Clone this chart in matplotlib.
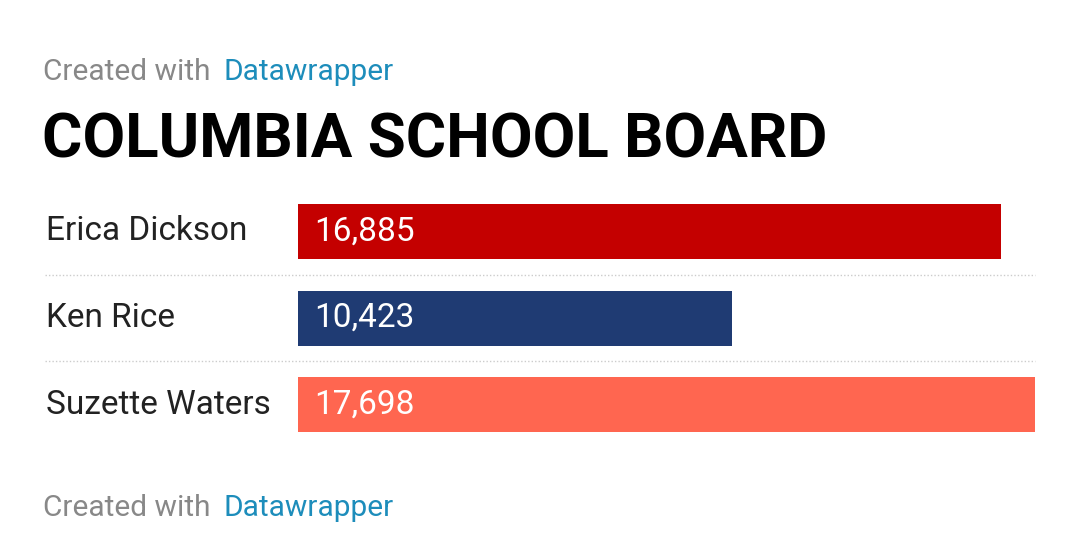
import matplotlib
matplotlib.use("Agg")
import matplotlib.pyplot as plt
from matplotlib.lines import Line2D

names = ["Erica Dickson", "Ken Rice", "Suzette Waters"]
votes = [16885, 10423, 17698]
colours = ["#C40000", "#1F3B73", "#FF6650"]

W, H = 1080, 537
fig = plt.figure(figsize=(W / 100, H / 100), dpi=100)
plt.rcParams["font.family"] = ["Roboto", "DejaVu Sans"]


def fx(px):
    return px / W


def fy(py):
    return 1 - py / H


row = 86.5
top = 231.5 - row / 2
ax = fig.add_axes([fx(298), fy(top + 3 * row), fx(1035) - fx(298), 3 * row / H])
ax.barh(range(len(names)), votes, height=55 / row, color=colours)
ax.set_xlim(0, max(votes))
ax.set_ylim(len(names) - 0.5, -0.5)
ax.axis("off")

for i, (n, v) in enumerate(zip(names, votes)):
    ax.text(max(votes) * 16 / 737, i, f"{v:,}", color="white", fontsize=24,
            va="center", ha="left")
    fig.text(fx(46), fy(231.5 + i * row), n, fontsize=24, color="#222222",
             va="center", ha="left")

# dotted separators between rows
for i in range(1, len(names)):
    y = fy(top + i * row)
    fig.add_artist(Line2D([fx(45), fx(1035)], [y, y], color="#cccccc",
                          linestyle=(0, (1, 1.5)), linewidth=1))

for yy in (72, 508):
    fig.text(fx(43), fy(yy), "Created with", fontsize=21.5, color="#888888",
             va="center", ha="left")
    fig.text(fx(223), fy(yy), "Datawrapper", fontsize=21.5, color="#1d8dbb",
             va="center", ha="left")
fig.text(fx(42), fy(140), "COLUMBIA SCHOOL BOARD", fontsize=44.5,
         fontweight="bold", color="black", va="center", ha="left")

fig.savefig("out.png", dpi=100, facecolor="white")
